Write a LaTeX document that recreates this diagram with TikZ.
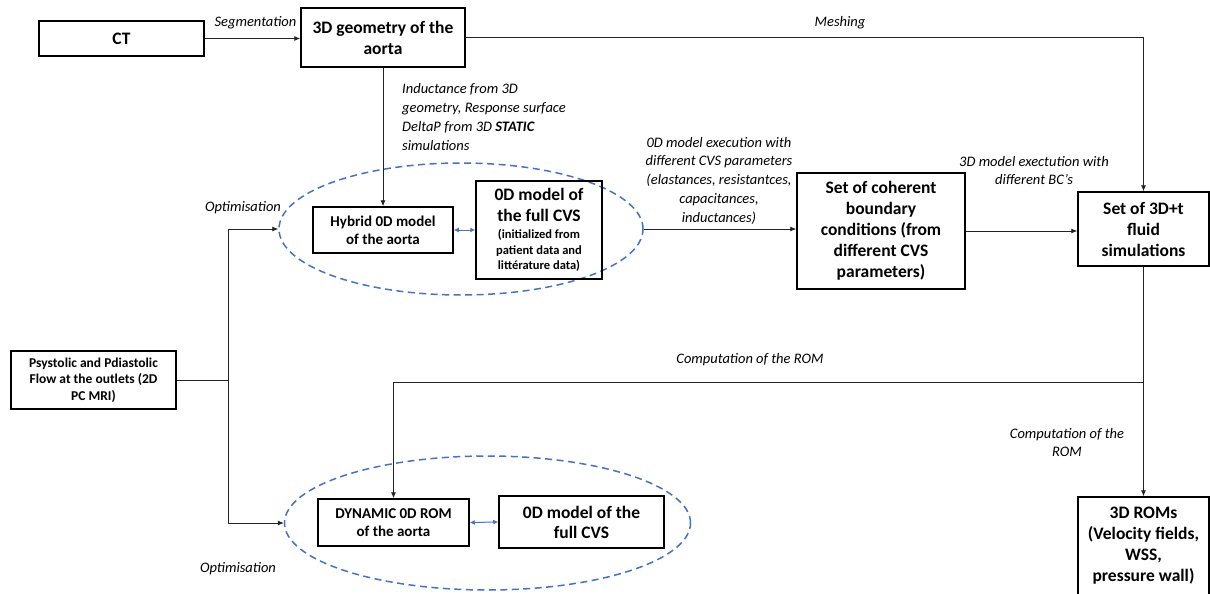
\documentclass[tikz,border=0pt]{standalone}
\usepackage{fontspec}
\setmainfont{Carlito}
\usepackage{tikz}
\usetikzlibrary{arrows.meta,positioning,shapes.geometric}
\definecolor{optcol}{RGB}{68,114,196}
\definecolor{linecol}{RGB}{35,35,35}
\newcommand{\fsz}[2]{\fontsize{#1}{#2}\selectfont}

\begin{document}
\begin{tikzpicture}[x=1pt,y=-1pt,
  box/.style={draw,line width=1.5pt,align=center,inner sep=0pt,font=\bfseries\fsz{17.5}{21}},
  sbox/.style={box,font=\bfseries\fsz{15}{18}},
  lab/.style={font=\itshape\fsz{14.5}{19},align=center,inner sep=0pt},
  conn/.style={linecol,line width=0.8pt},
  arr/.style={conn,-{Latex[length=6pt,width=5pt]}},
  twin/.style={optcol,line width=1pt,{Latex[length=5pt,width=5pt]}-{Latex[length=5pt,width=5pt]}},
  opt/.style={ellipse,draw=optcol,line width=1.5pt,dash pattern=on 7pt off 4.5pt,inner sep=0pt}]
  \useasboundingbox (0,0) rectangle (1210,594);
  % input data and geometry
  \node[box,minimum width=165pt,minimum height=35pt] (ct) at (121.5,38.5) {CT};
  \node[box,minimum width=164pt,minimum height=59pt] (geo) at (383,37.5) {3D geometry of the\\aorta};
  \node[box,font=\bfseries\fsz{13.5}{16.5},minimum width=165pt,minimum height=58pt] (psy) at (93.5,380)
    {Psystolic and Pdiastolic\\Flow at the outlets (2D\\PC MRI)};
  % upper optimisation loop
  \node[opt,minimum width=364pt,minimum height=132pt] (eopt) at (461,229) {};
  \node[sbox,minimum width=140pt,minimum height=46pt] (hyb) at (383,230) {Hybrid 0D model\\of the aorta};
  \node[box,minimum width=126pt,minimum height=98pt] (cvs) at (539,230)
    {0D model of\\the full CVS\\[-4pt]\fsz{12.5}{15.5}(initialized from\\[-5.5pt]\fsz{12.5}{15.5}patient data and\\[-5.5pt]\fsz{12.5}{15.5}littérature data)};
  % boundary conditions and 3D runs
  \node[box,minimum width=168pt,minimum height=116pt] (coh) at (881,231)
    {Set of coherent\\boundary\\conditions (from\\different CVS\\parameters)};
  \node[box,minimum width=131pt,minimum height=74pt] (sim) at (1143.5,229) {Set of 3D+t\\fluid\\simulations};
  \node[box,minimum width=131pt,minimum height=98pt] (roms) at (1143.5,546)
    {3D ROMs\\(Velocity fields,\\WSS,\\pressure wall)};
  % lower optimisation loop
  \node[opt,minimum width=406pt,minimum height=134pt] (eoptb) at (487.5,523) {};
  \node[sbox,minimum width=151pt,minimum height=47pt] (dyn) at (393.5,522.5) {DYNAMIC 0D ROM\\of the aorta};
  \node[box,font=\bfseries\fsz{17.5}{20},minimum width=165pt,minimum height=52pt] (cvsb) at (581.5,522)
    {0D model of the\\full CVS};
  % connectors
  \draw[arr] (ct.east) -- (ct.east -| geo.west);
  \draw[arr] (geo.south) -- (hyb.north);
  \draw[arr] (geo.east) -| (sim.north);
  \draw[twin] (hyb.east) -- (cvs.west);
  \coordinate (jn) at (228,380);
  \draw[conn] (psy.east) -- (jn);
  \draw[arr] (jn) |- (eopt.west);
  \draw[arr] (jn) |- (eoptb.west);
  \draw[arr] (eopt.east) -- (eopt.east -| coh.west);
  \draw[arr] (coh.east) -- (coh.east -| sim.west);
  \path (sim.south) ++(0,116) coordinate (br);
  \draw[arr] (sim.south) -- (roms.north);
  \draw[arr] (br) -| (dyn.north);
  \draw[twin] (dyn.east) -- (cvsb.west);
  % labels
  \node[lab] (lseg) at (255.5,23) {Segmentation};
  \node[lab] (lmesh) at (840,23) {Meshing};
  \node[lab,align=left,anchor=west] (lind) at (402,117)
    {Inductance from 3D\\geometry, Response surface\\DeltaP from 3D \textbf{STATIC}\\simulations};
  \node[lab,font=\itshape\fsz{14.5}{18.75}] (lexec) at (719,180.5)
    {0D model execution with\\different CVS parameters\\(elastances, resistantces,\\capacitances,\\inductances)};
  \node[lab,font=\itshape\fsz{14.5}{18}] (lexec3) at (1034,171) {3D model exectution with\\different BC’s};
  \node[lab] (lopt) at (243,208) {Optimisation};
  \node[lab] (loptb) at (238,569) {Optimisation};
  \node[lab] (lrom) at (750,360) {Computation of the ROM};
  \node[lab,font=\itshape\fsz{14.5}{18}] (lromb) at (1067,443) {Computation of the\\ROM};
\end{tikzpicture}
\end{document}
